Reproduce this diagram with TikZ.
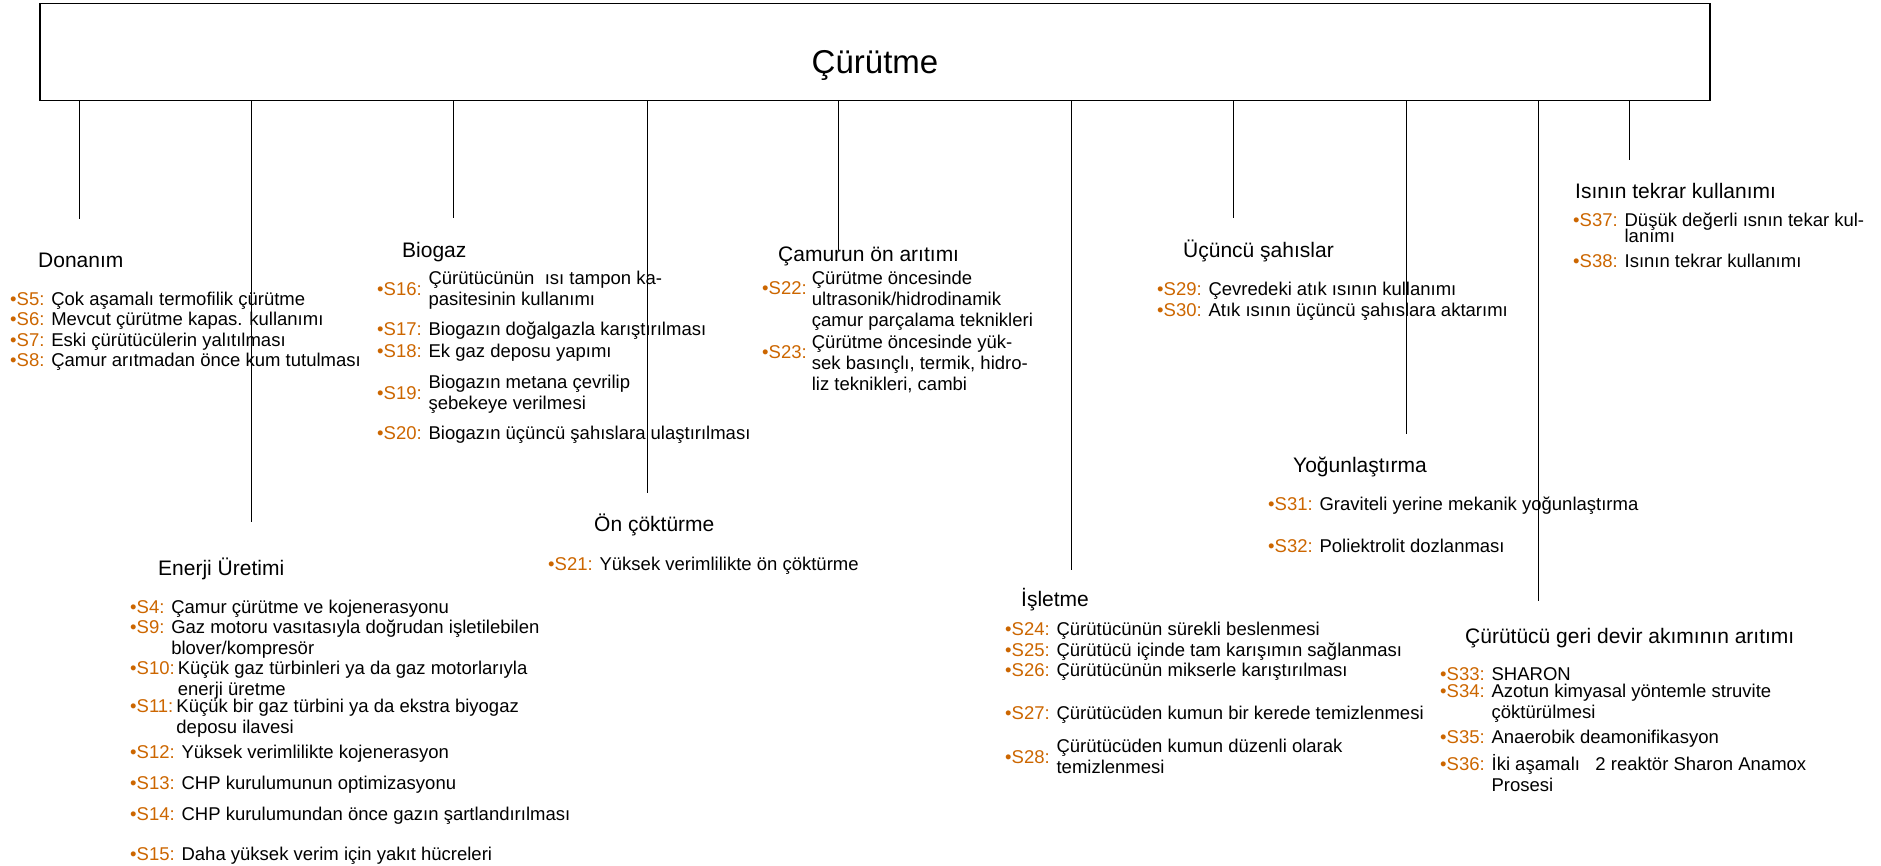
\documentclass[tikz,border=0pt]{standalone}
\usepackage{fontspec}
\setmainfont{Liberation Sans}
\usepackage{tikz}
\definecolor{sorange}{RGB}{204,102,0}
\newcommand{\sno}[1]{\textcolor{sorange}{\textbullet S#1:}}
\tikzset{root/.style={draw, line width=1.2pt, minimum width=1670pt, minimum height=97pt,
		inner sep=0pt, text height=42pt, text depth=0pt, font=\fontsize{33}{40}\selectfont},
	head/.style={anchor=base west, inner sep=0pt, font=\fontsize{21}{25}\selectfont},
	sitem/.style={anchor=base west, inner sep=0pt, font=\fontsize{18.5}{21}\selectfont},
	hang/.style={line width=1pt}}

\begin{document}
\begin{tikzpicture}[x=1pt,y=-1pt]
		\useasboundingbox (0,0) rectangle (1881,865);
		\node[root] (root) at (875,52){Çürütme};
		% free ends of the hanging lines
		\coordinate (e1) at (79,219);
		\coordinate (e2) at (251,522);
		\coordinate (e3) at (453,218);
		\coordinate (e4) at (647,493);
		\coordinate (e5) at (838,250);
		\coordinate (e6) at (1071,570);
		\coordinate (e7) at (1233,218);
		\coordinate (e8) at (1406,434);
		\coordinate (e9) at (1538,601);
		\coordinate (e10) at (1629,160);
		\draw[hang] (root.south -| e1) -- (e1);
		\draw[hang] (root.south -| e2) -- (e2);
		\draw[hang] (root.south -| e3) -- (e3);
		\draw[hang] (root.south -| e4) -- (e4);
		\draw[hang] (root.south -| e5) -- (e5);
		\draw[hang] (root.south -| e6) -- (e6);
		\draw[hang] (root.south -| e7) -- (e7);
		\draw[hang] (root.south -| e8) -- (e8);
		\draw[hang] (root.south -| e9) -- (e9);
		\draw[hang] (root.south -| e10) -- (e10);
		% Donanim
		\node[head] (donanim) at (38,267.5){Donanım};
		\node[sitem] (s5) at (10,305){\sno{5} Çok aşamalı termofilik çürütme};
		\node[sitem] (s6) at (10,325){\sno{6} Mevcut çürütme kapas. kullanımı};
		\node[sitem] (s7) at (10,346){\sno{7} Eski çürütücülerin yalıtılması};
		\node[sitem] (s8) at (10,366){\sno{8} Çamur arıtmadan önce kum tutulması};
		% Enerji
		\node[head] (enerji) at (158,575){Enerji Üretimi};
		\node[sitem] (s4) at (130,613){\sno{4} Çamur çürütme ve kojenerasyonu};
		\node[sitem] (s9) at (130,633){\sno{9} \begin{tabular}[t]{@{}l@{}}Gaz motoru vasıtasıyla doğrudan işletilebilen\\blover/kompresör\end{tabular}};
		\node[sitem] (s10) at (130,674){\sno{10}\,\begin{tabular}[t]{@{}l@{}}Küçük gaz türbinleri ya da gaz motorlarıyla\\enerji üretme\end{tabular}};
		\node[sitem] (s11) at (130,712){\sno{11}\,\begin{tabular}[t]{@{}l@{}}Küçük bir gaz türbini ya da ekstra biyogaz\\deposu ilavesi\end{tabular}};
		\node[sitem] (s12) at (130,758){\sno{12} Yüksek verimlilikte kojenerasyon};
		\node[sitem] (s13) at (130,789){\sno{13} CHP kurulumunun optimizasyonu};
		\node[sitem] (s14) at (130,820){\sno{14} CHP kurulumundan önce gazın şartlandırılması};
		\node[sitem] (s15) at (130,860){\sno{15} Daha yüksek verim için yakıt hücreleri};
		% Biogaz
		\node[head] (biogaz) at (402,257.5){Biogaz};
		\node[sitem] (s16) at (377,295){\sno{16} \begin{tabular}[c]{@{}l@{}}Çürütücünün\ \ ısı tampon ka-\\pasitesinin kullanımı\end{tabular}};
		\node[sitem] (s17) at (377,335){\sno{17} Biogazın doğalgazla karıştırılması};
		\node[sitem] (s18) at (377,357){\sno{18} Ek gaz deposu yapımı};
		\node[sitem] (s19) at (377,399){\sno{19} \begin{tabular}[c]{@{}l@{}}Biogazın metana çevrilip\\şebekeye verilmesi\end{tabular}};
		\node[sitem] (s20) at (377,439){\sno{20} Biogazın üçüncü şahıslara ulaştırılması};
		% On cokturme
		\node[head] (oncok) at (594,531.5){Ön çöktürme};
		\node[sitem] (s21) at (548,570){\sno{21} Yüksek verimlilikte ön çöktürme};
		% Camur on aritimi
		\node[head] (camur) at (778,261.5){Çamurun ön arıtımı};
		\node[sitem] (s22) at (762,284){\raisebox{-10.5pt}{\sno{22}} \begin{tabular}[t]{@{}l@{}}Çürütme öncesinde\\ultrasonik/hidrodinamik\\çamur parçalama teknikleri\end{tabular}};
		\node[sitem] (s23) at (762,348){\raisebox{-10.5pt}{\sno{23}} \begin{tabular}[t]{@{}l@{}}Çürütme öncesinde yük-\\sek basınçlı, termik, hidro-\\liz teknikleri, cambi\end{tabular}};
		% Isletme
		\node[head] (isletme) at (1021,606.5){İşletme};
		\node[sitem] (s24) at (1005,635){\sno{24} Çürütücünün sürekli beslenmesi};
		\node[sitem] (s25) at (1005,656){\sno{25} Çürütücü içinde tam karışımın sağlanması};
		\node[sitem] (s26) at (1005,676){\sno{26} Çürütücünün mikserle karıştırılması};
		\node[sitem] (s27) at (1005,719){\sno{27} Çürütücüden kumun bir kerede temizlenmesi};
		\node[sitem] (s28) at (1005,763.5){\sno{28} \begin{tabular}[c]{@{}l@{}}Çürütücüden kumun düzenli olarak\\temizlenmesi\end{tabular}};
		% Ucuncu sahislar
		\node[head] (ucuncu) at (1183,257.5){Üçüncü şahıslar};
		\node[sitem] (s29) at (1157,295){\sno{29} Çevredeki atık ısının kullanımı};
		\node[sitem] (s30) at (1157,316){\sno{30} Atık ısının üçüncü şahıslara aktarımı};
		% Yogunlastirma
		\node[head] (yogun) at (1293,472.5){Yoğunlaştırma};
		\node[sitem] (s31) at (1268,510){\sno{31} Graviteli yerine mekanik yoğunlaştırma};
		\node[sitem] (s32) at (1268,552){\sno{32} Poliektrolit dozlanması};
		% Geri devir akimi
		\node[head] (gerid) at (1465,643.5){Çürütücü geri devir akımının arıtımı};
		\node[sitem] (s33) at (1440,680){\sno{33} SHARON};
		\node[sitem] (s34) at (1440,697){\sno{34} \begin{tabular}[t]{@{}l@{}}Azotun kimyasal yöntemle struvite\\çöktürülmesi\end{tabular}};
		\node[sitem] (s35) at (1440,743){\sno{35} Anaerobik deamonifikasyon};
		\node[sitem] (s36) at (1440,770){\sno{36} \begin{tabular}[t]{@{}l@{}}İki aşamalı\ \ \ 2 reaktör Sharon Anamox\\Prosesi\end{tabular}};
		% Isi tekrar
		\node[head] (isi) at (1575,198.5){Isının tekrar kullanımı};
		\node[sitem] (s37) at (1573,226){\sno{37} \begin{tabular}[t]{@{}l@{}}Düşük değerli ısnın tekar kul-\\[-5pt]lanımı\end{tabular}};
		\node[sitem] (s38) at (1573,267){\sno{38} Isının tekrar kullanımı};
		\end{tikzpicture}
\end{document}
